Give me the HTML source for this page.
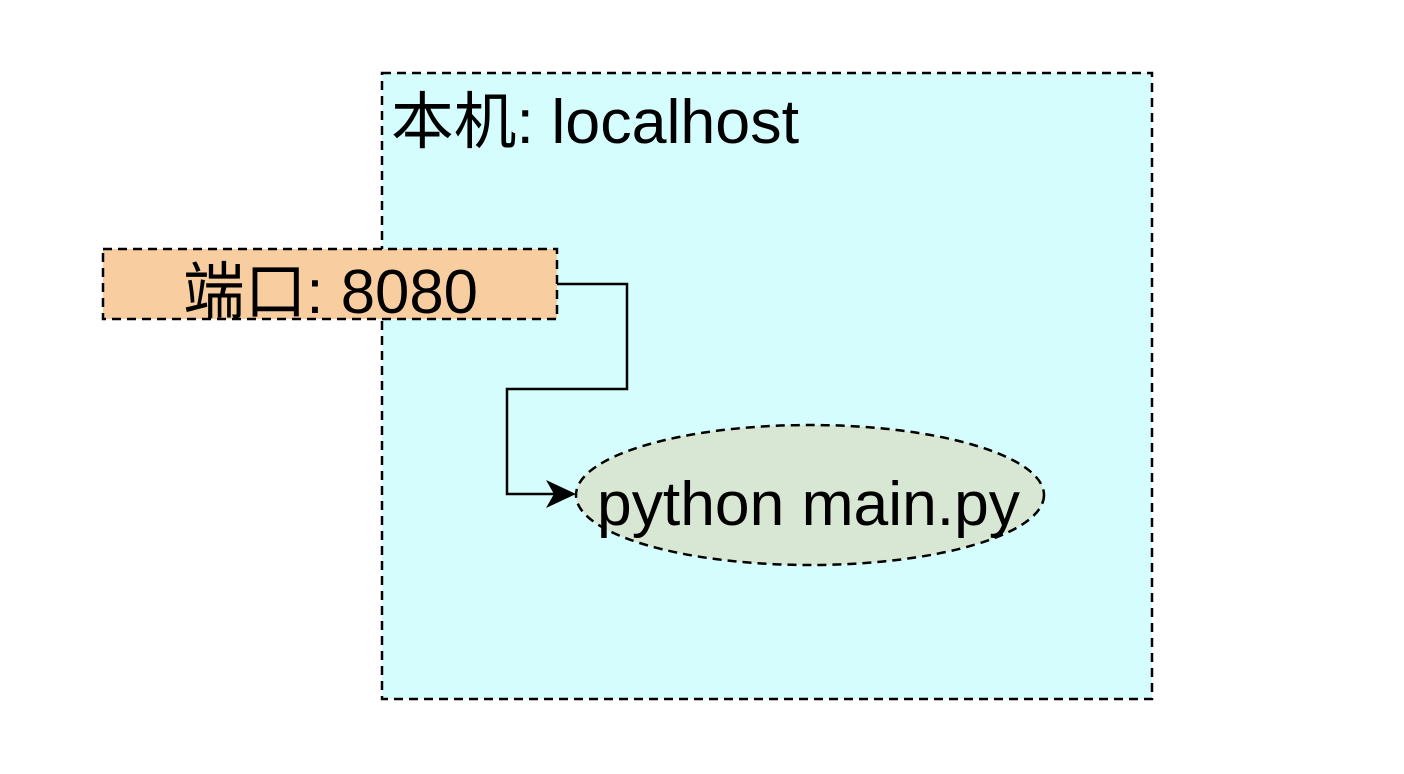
<!DOCTYPE html>
<html><head><meta charset="utf-8"><style>html,body{margin:0;padding:0;background:#fff}svg{display:block}</style></head>
<body>
<svg width="1404" height="774" viewBox="0 0 1404 774" xmlns="http://www.w3.org/2000/svg" font-family="'Liberation Sans','Noto Sans CJK SC',sans-serif">
<rect x="382" y="73" width="770" height="626" fill="#d5fdfd" stroke="#000" stroke-width="2.5" stroke-dasharray="9 6"/>
<text x="391" y="143" font-size="62" fill="#000" textLength="408" lengthAdjust="spacingAndGlyphs">本机: localhost</text>
<rect x="103" y="249" width="454" height="70" fill="#f8cda0" stroke="#000" stroke-width="2.5" stroke-dasharray="9 6"/>
<text x="183" y="313" font-size="62" fill="#000" textLength="295" lengthAdjust="spacingAndGlyphs">端口: 8080</text>
<polyline points="557,284 627,284 627,389 507,389 507,494 560,494" fill="none" stroke="#000" stroke-width="2.5"/>
<polygon points="576,494 546,480 554,494 546,508" fill="#000"/>
<ellipse cx="810" cy="495" rx="234" ry="70" fill="#d8e6d4" stroke="#000" stroke-width="2.5" stroke-dasharray="9 6"/>
<text x="597" y="525" font-size="62" fill="#000" textLength="423" lengthAdjust="spacingAndGlyphs">python main.py</text>
</svg>
</body></html>
